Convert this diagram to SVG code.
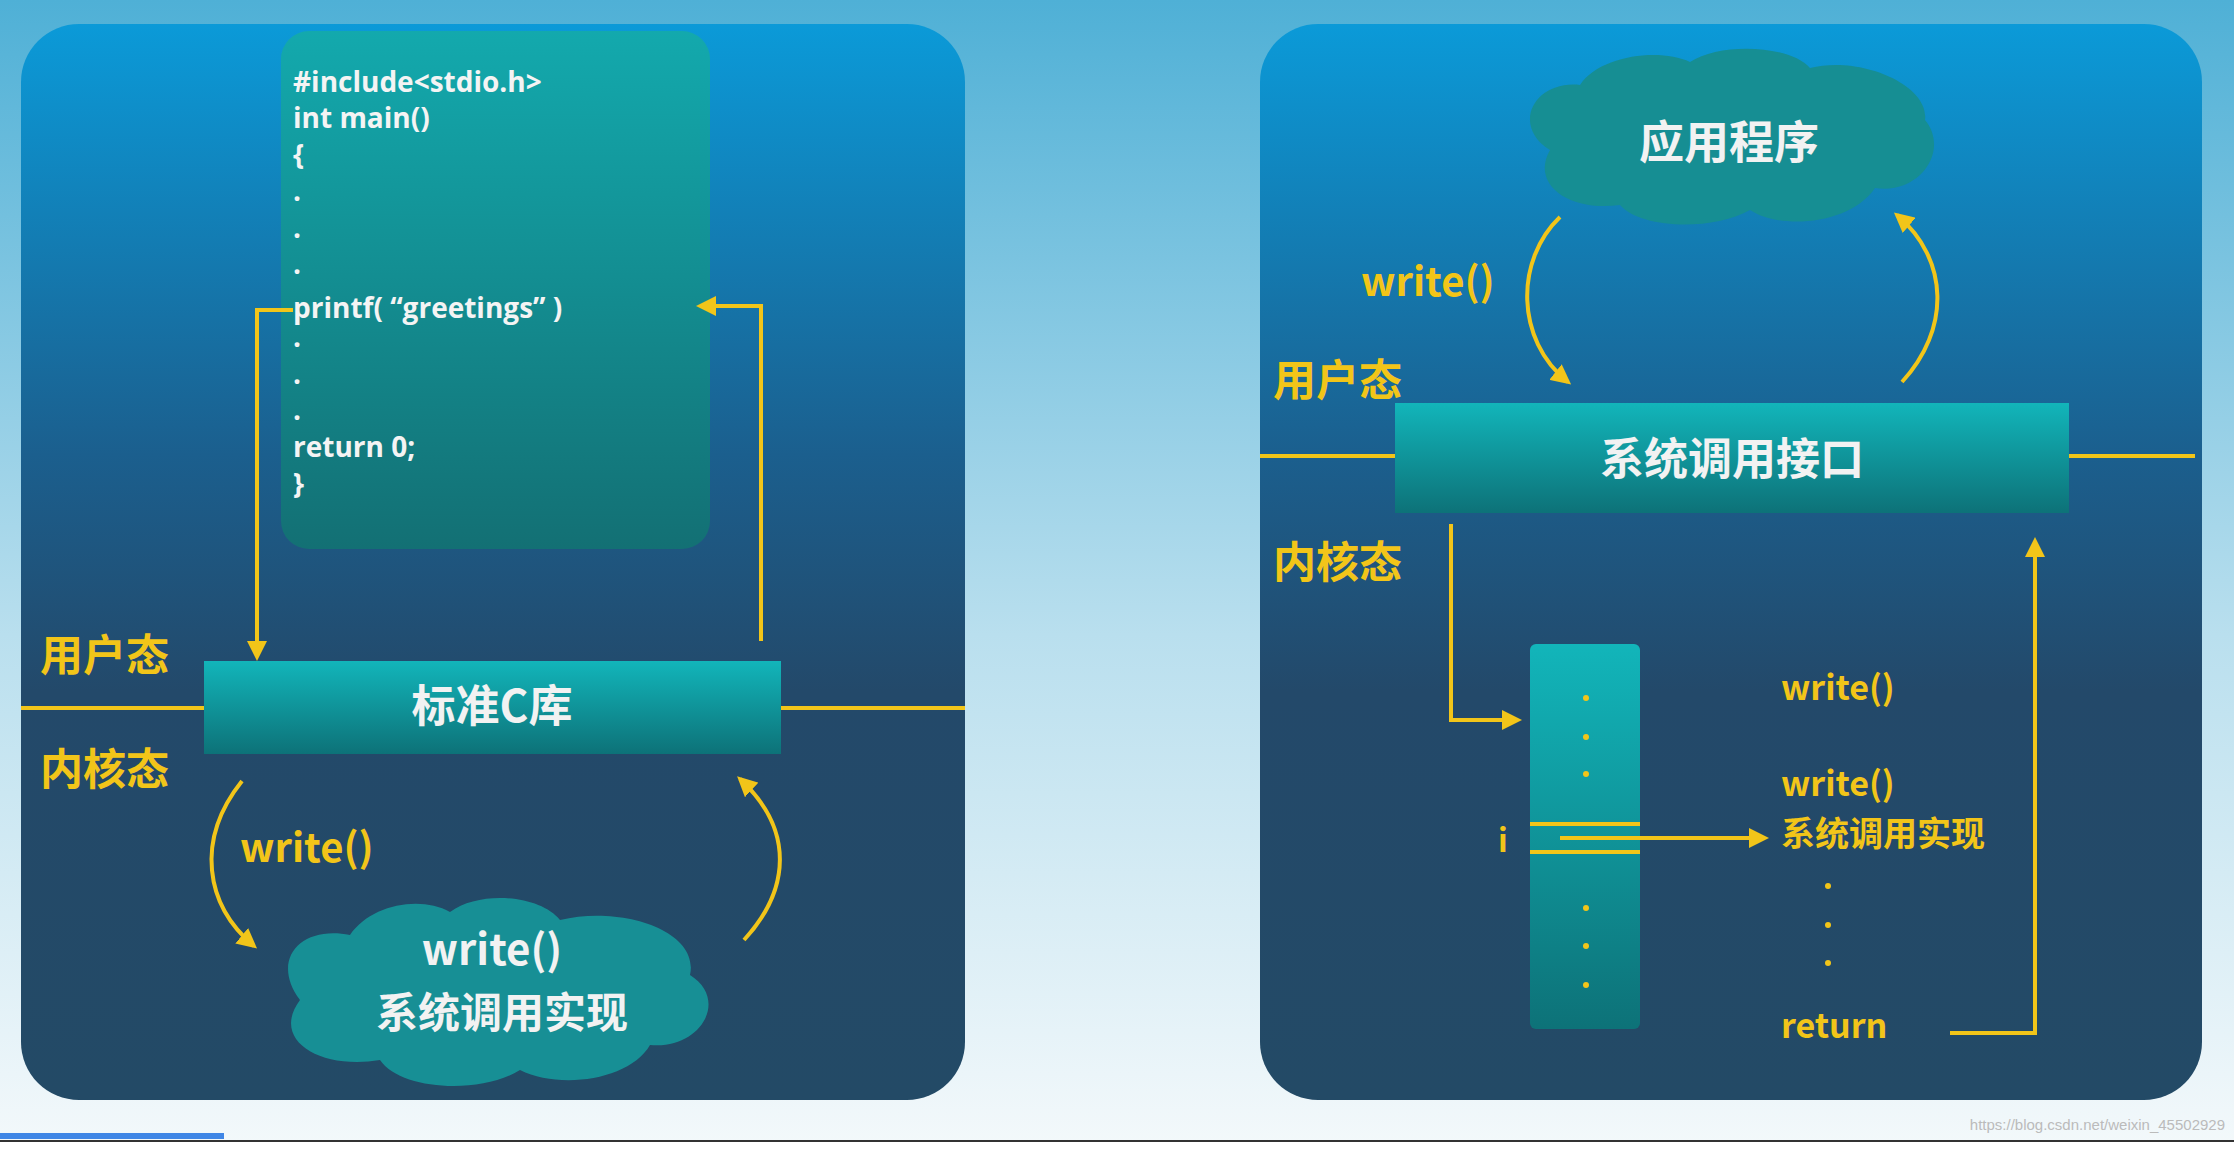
<svg xmlns="http://www.w3.org/2000/svg" width="2234" height="1153" viewBox="0 0 2234 1153">
<defs>
<linearGradient id="bg" x1="0" y1="0" x2="0" y2="1"><stop offset="0" stop-color="#4fb0d6"/><stop offset="0.55" stop-color="#b9dfee"/><stop offset="1" stop-color="#f4f9fb"/></linearGradient>
<linearGradient id="panel" x1="0" y1="0" x2="0" y2="1"><stop offset="0" stop-color="#0b9ad8"/><stop offset="0.4" stop-color="#1b5f8e"/><stop offset="0.62" stop-color="#23496a"/><stop offset="1" stop-color="#234a66"/></linearGradient>
<linearGradient id="teal" x1="0" y1="0" x2="0" y2="1"><stop offset="0" stop-color="#12b5ba"/><stop offset="1" stop-color="#0d7278"/></linearGradient>
<linearGradient id="code" x1="0" y1="0" x2="0" y2="1"><stop offset="0" stop-color="#13a9ad"/><stop offset="1" stop-color="#137074"/></linearGradient>
<marker id="ah" viewBox="0 0 10 10" refX="8" refY="5" markerWidth="5" markerHeight="5" orient="auto-start-reverse"><path d="M0,0 L10,5 L0,10 Z" fill="#f2c519"/></marker>
<style>
.y{stroke:#f2c519;stroke-width:4;fill:none}
.ya{stroke:#f2c519;stroke-width:4;fill:none;marker-end:url(#ah)}
.code{font-family:"Open Sans","DejaVu Sans",sans-serif;font-weight:bold;font-size:28px;fill:#f4f4f4}
.w{font-family:"Noto Sans CJK SC",sans-serif;font-weight:bold;fill:#f2f2f2}
.g{font-family:"Noto Sans CJK SC",sans-serif;font-weight:bold;fill:#f2c519}
</style>
</defs>
<rect width="2234" height="1153" fill="url(#bg)"/>
<rect x="21" y="24" width="944" height="1076" rx="58" fill="url(#panel)"/>
<rect x="1260" y="24" width="942" height="1076" rx="58" fill="url(#panel)"/>

<g id="code-box">
<rect x="281" y="31" width="429" height="518" rx="28" fill="url(#code)"/>
<text class="code" x="293" y="92">#include&lt;stdio.h&gt;</text>
<text class="code" x="293" y="128">int main()</text>
<text class="code" x="293" y="165">{</text>
<text class="code" x="293" y="201">.</text>
<text class="code" x="293" y="238">.</text>
<text class="code" x="293" y="274">.</text>
<text class="code" x="293" y="318">printf( “greetings” )</text>
<text class="code" x="293" y="347">.</text>
<text class="code" x="293" y="384">.</text>
<text class="code" x="293" y="420">.</text>
<text class="code" x="293" y="457">return 0;</text>
<text class="code" x="293" y="494">}</text>
</g>

<g id="clib">
<rect x="204" y="661" width="577" height="93" fill="url(#teal)"/>
<text class="w" x="492" y="722" font-size="44" text-anchor="middle">标准C库</text>
</g>

<g id="cloud-left">
<path d="M300,1000 C270,960 300,925 350,935 C370,905 420,895 450,912 C480,890 540,895 560,920 C620,905 700,930 690,975 C730,1000 700,1050 650,1045 C630,1080 560,1090 520,1070 C480,1095 400,1090 380,1060 C320,1070 270,1040 300,1000 Z" fill="#178f95"/>
<text class="w" x="492" y="965" font-size="42" text-anchor="middle">write()</text>
<text class="w" x="502" y="1028" font-size="42" text-anchor="middle">系统调用实现</text>
</g>

<g id="labels-left">
<text class="g" x="40" y="671" font-size="43">用户态</text>
<text class="g" x="40" y="785" font-size="43">内核态</text>
<text class="g" x="240" y="862" font-size="40">write()</text>
</g>

<g id="cloud-right">
<path d="M1550,150 C1510,125 1535,80 1580,85 C1600,55 1660,48 1690,62 C1720,42 1790,45 1810,68 C1860,55 1930,85 1925,120 C1950,150 1920,195 1875,188 C1850,225 1780,230 1750,210 C1710,232 1640,228 1620,205 C1570,212 1530,185 1550,150 Z" fill="#168e93"/>
<text class="w" x="1729" y="159" font-size="45" text-anchor="middle">应用程序</text>
</g>

<g id="syscall-if">
<rect x="1395" y="403" width="674" height="110" fill="url(#teal)"/>
<text class="w" x="1732" y="475" font-size="44" text-anchor="middle">系统调用接口</text>
</g>

<g id="table">
<rect x="1530" y="644" width="110" height="385" rx="6" fill="url(#teal)"/>
<g fill="#f2c519"><circle cx="1586" cy="698" r="3"/><circle cx="1586" cy="737" r="3"/><circle cx="1586" cy="774" r="3"/><circle cx="1586" cy="908" r="3"/><circle cx="1586" cy="946" r="3"/><circle cx="1586" cy="985" r="3"/>
<circle cx="1828" cy="886" r="3"/><circle cx="1828" cy="925" r="3"/><circle cx="1828" cy="963" r="3"/></g>
</g>

<g id="labels-right">
<text class="g" x="1361" y="296" font-size="40">write()</text>
<text class="g" x="1273" y="396" font-size="43">用户态</text>
<text class="g" x="1273" y="578" font-size="43">内核态</text>
<text class="g" x="1498" y="852" font-size="32">i</text>
<text class="g" x="1781" y="700" font-size="34">write()</text>
<text class="g" x="1781" y="796" font-size="34">write()</text>
<text class="g" x="1781" y="846" font-size="34">系统调用实现</text>
<text class="g" x="1781" y="1038" font-size="34">return</text>
</g>

<g id="connectors">
<line class="y" x1="21" y1="708" x2="204" y2="708"/>
<line class="y" x1="781" y1="708" x2="965" y2="708"/>
<polyline class="ya" points="293,310 257,310 257,657"/>
<polyline class="ya" points="761,641 761,306 700,306"/>
<path class="ya" d="M242,781 C195,840 205,905 254,946"/>
<path class="ya" d="M744,940 C790,890 795,830 740,779"/>
<line class="y" x1="1260" y1="456" x2="1395" y2="456"/>
<line class="y" x1="2069" y1="456" x2="2195" y2="456"/>
<path class="ya" d="M1560,217 C1515,260 1515,340 1568,382"/>
<path class="ya" d="M1902,382 C1950,330 1950,260 1897,215"/>
<polyline class="ya" points="1451,524 1451,720 1518,720"/>
<line class="y" x1="1530" y1="824" x2="1640" y2="824" stroke-width="3"/>
<line class="y" x1="1560" y1="838" x2="1640" y2="838" stroke-width="3"/>
<line class="y" x1="1530" y1="852" x2="1640" y2="852" stroke-width="3"/>
<line class="ya" x1="1640" y1="838" x2="1765" y2="838"/>
<polyline class="ya" points="1950,1033 2035,1033 2035,541"/>
</g>

<rect x="0" y="1133" width="224" height="6" fill="#3f86e6"/>
<rect x="0" y="1140" width="2234" height="2" fill="#333"/>
<rect x="0" y="1142" width="2234" height="11" fill="#fff"/>
<text x="2225" y="1130" font-family="Liberation Sans,sans-serif" font-size="15" fill="#bbb" text-anchor="end">https://blog.csdn.net/weixin_45502929</text>
</svg>
